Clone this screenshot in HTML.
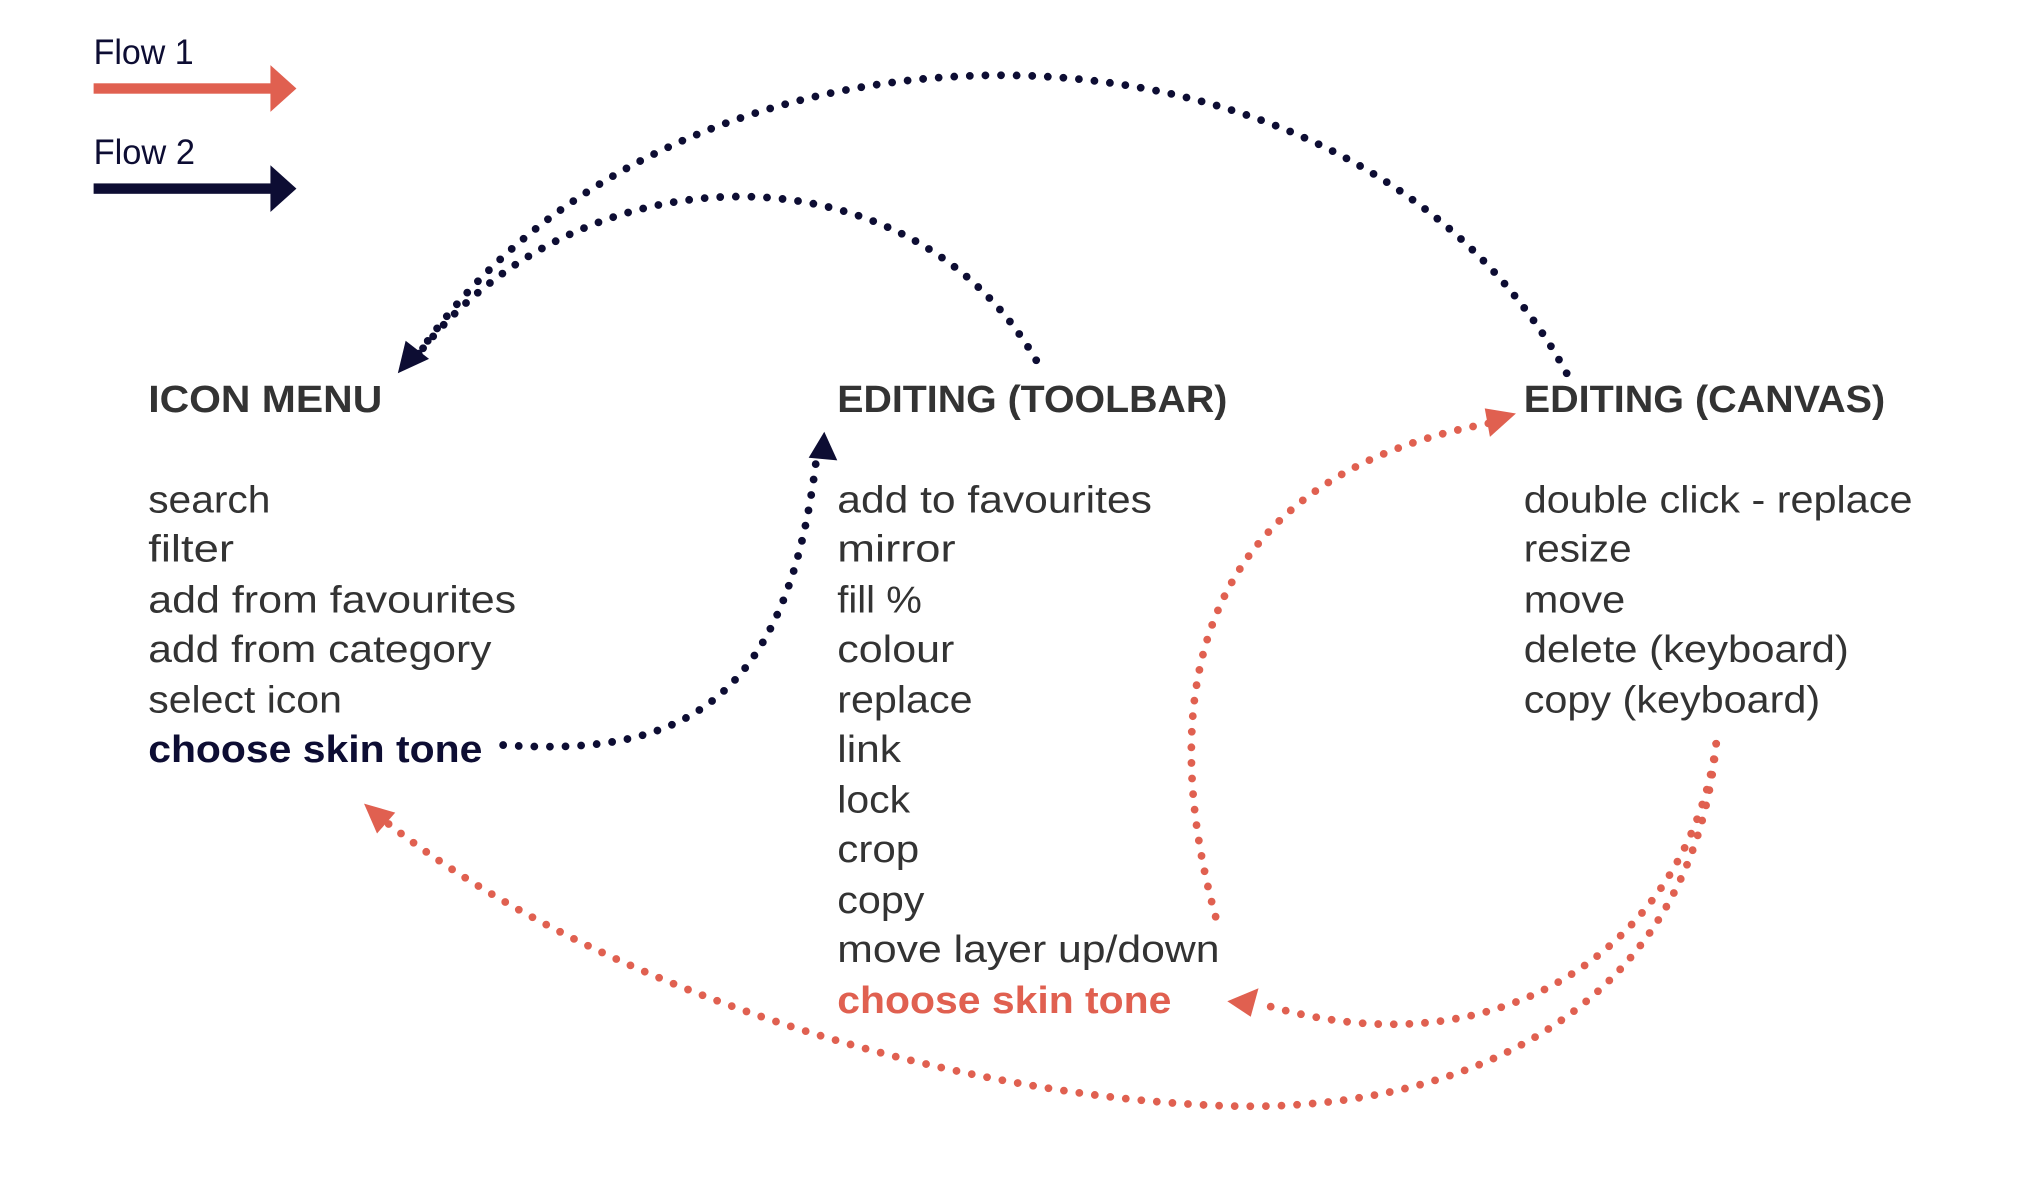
<!DOCTYPE html>
<html><head><meta charset="utf-8"><style>
html,body{margin:0;padding:0;background:#fff;}
svg{display:block;}
text{font-family:"Liberation Sans",sans-serif;}
</style></head><body>
<svg width="2036" height="1182" viewBox="0 0 1566 909" xmlns="http://www.w3.org/2000/svg">
<!-- legend -->
<text x="72" y="49" font-size="27" fill="#0d0d33" textLength="77" lengthAdjust="spacingAndGlyphs">Flow 1</text>
<rect x="72" y="64" width="140" height="8" fill="#e06050"/>
<path d="M208,50 L228,68 L208,86 z" fill="#e06050"/>
<text x="72" y="126" font-size="27" fill="#0d0d33" textLength="78" lengthAdjust="spacingAndGlyphs">Flow 2</text>
<rect x="72" y="141" width="140" height="8" fill="#0d0d33"/>
<path d="M208,127 L228,145 L208,163 z" fill="#0d0d33"/>

<!-- headings -->
<g font-size="29" font-weight="bold" fill="#333">
<text x="114" y="317" textLength="180" lengthAdjust="spacingAndGlyphs">ICON MENU</text>
<text x="644" y="317" textLength="300" lengthAdjust="spacingAndGlyphs">EDITING (TOOLBAR)</text>
<text x="1172" y="317" textLength="278" lengthAdjust="spacingAndGlyphs">EDITING (CANVAS)</text>
</g>
<g font-size="29" fill="#333">
<text x="114" y="394" textLength="94" lengthAdjust="spacingAndGlyphs">search</text>
<text x="114" y="432" textLength="66" lengthAdjust="spacingAndGlyphs">filter</text>
<text x="114" y="471" textLength="283" lengthAdjust="spacingAndGlyphs">add from favourites</text>
<text x="114" y="509" textLength="264" lengthAdjust="spacingAndGlyphs">add from category</text>
<text x="114" y="548" textLength="149" lengthAdjust="spacingAndGlyphs">select icon</text>
<text x="114" y="586" font-weight="bold" fill="#0d0d33" textLength="257" lengthAdjust="spacingAndGlyphs">choose skin tone</text>
<text x="644" y="394" textLength="242" lengthAdjust="spacingAndGlyphs">add to favourites</text>
<text x="644" y="432" textLength="91" lengthAdjust="spacingAndGlyphs">mirror</text>
<text x="644" y="471" textLength="65" lengthAdjust="spacingAndGlyphs">fill %</text>
<text x="644" y="509" textLength="90" lengthAdjust="spacingAndGlyphs">colour</text>
<text x="644" y="548" textLength="104" lengthAdjust="spacingAndGlyphs">replace</text>
<text x="644" y="586" textLength="49" lengthAdjust="spacingAndGlyphs">link</text>
<text x="644" y="625" textLength="56" lengthAdjust="spacingAndGlyphs">lock</text>
<text x="644" y="663" textLength="63" lengthAdjust="spacingAndGlyphs">crop</text>
<text x="644" y="702" textLength="67" lengthAdjust="spacingAndGlyphs">copy</text>
<text x="644" y="740" textLength="294" lengthAdjust="spacingAndGlyphs">move layer up/down</text>
<text x="644" y="779" font-weight="bold" fill="#e06050" textLength="257" lengthAdjust="spacingAndGlyphs">choose skin tone</text>
<text x="1172" y="394" textLength="299" lengthAdjust="spacingAndGlyphs">double click - replace</text>
<text x="1172" y="432" textLength="83" lengthAdjust="spacingAndGlyphs">resize</text>
<text x="1172" y="471" textLength="78" lengthAdjust="spacingAndGlyphs">move</text>
<text x="1172" y="509" textLength="250" lengthAdjust="spacingAndGlyphs">delete (keyboard)</text>
<text x="1172" y="548" textLength="228" lengthAdjust="spacingAndGlyphs">copy (keyboard)</text>
</g>

<!-- navy dotted curves -->
<g fill="none" stroke="#0d0d33" stroke-width="6" stroke-linecap="round" stroke-dasharray="0 12">
<path d="M387,573 C520,582 605,545 628,352"/>
<path d="M797,277 C700,110 450,110 322,272"/>
<path d="M1205,287 C1040,-16 520,-16 322,272"/>
</g>
<path d="M622,352 L634,332 L644,354 z" fill="#0d0d33"/>
<path d="M306,287 L312,262 L330,276 z" fill="#0d0d33"/>

<!-- red dotted curves -->
<g fill="none" stroke="#e06050" stroke-width="6" stroke-linecap="round" stroke-dasharray="0 12">
<path d="M935,705 C895,560 900,370 1148,325"/>
<path d="M1320,572 C1300,720 1160,830 970,772"/>
<path d="M1320,572 C1300,780 1120,860 930,850 C720,840 460,760 298,633"/>
</g>
<path d="M1166,318 L1146,336 L1142,314 z" fill="#e06050"/>
<path d="M944,770 L968,760 L962,782 z" fill="#e06050"/>
<path d="M280,618 L304,625 L290,641 z" fill="#e06050"/>
</svg>
</body></html>
